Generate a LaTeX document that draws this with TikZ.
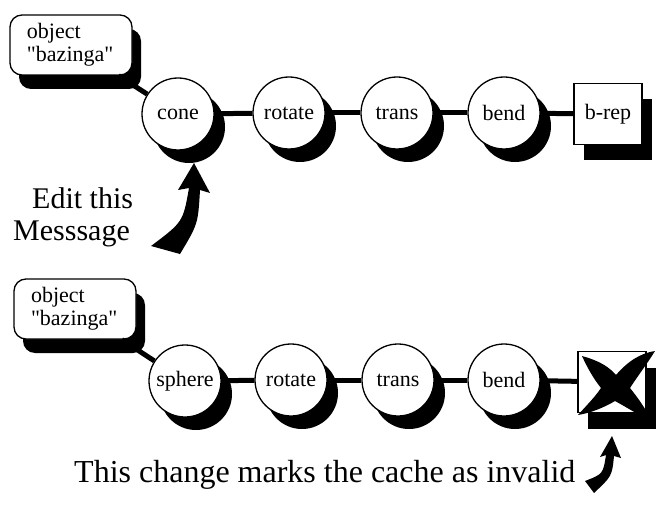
\documentclass[tikz,border=0pt]{standalone}
\usepackage{fontspec}
\setmainfont{Liberation Serif}
\usetikzlibrary{shadows}
\begin{document}
\begin{tikzpicture}[x=1pt,y=-1pt,
  conn/.style={line width=5pt,black},
  opnode/.style={circle,draw,line width=1.3pt,fill=white,minimum size=72pt,inner sep=0pt,
    font=\fontsize{22}{24}\selectfont,
    drop shadow={shadow xshift=11pt,shadow yshift=-13pt,fill=black,opacity=1}},
  objbox/.style={draw,line width=1.3pt,fill=white,rounded corners=12pt,minimum width=122pt,
    minimum height=60pt,inner xsep=17pt,inner ysep=0pt,text width=88pt,align=left,
    font=\fontsize{22}{23}\selectfont,
    drop shadow={shadow xshift=9pt,shadow yshift=-14pt,fill=black,opacity=1}},
  repbox/.style={draw,line width=1.3pt,fill=white,minimum width=68pt,minimum height=61pt,
    inner sep=0pt,font=\fontsize{22}{24}\selectfont,
    drop shadow={shadow xshift=10pt,shadow yshift=-16pt,fill=black,opacity=1}},
  bigtext/.style={inner sep=0pt,font=\fontsize{30}{32}\selectfont},
  brush/.style={fill=black,draw=none}
]
\useasboundingbox (0,0) rectangle (658,505);
% top row
\node[objbox] (obj1) at (71,45) {object\\\textquotedbl bazinga\textquotedbl};
\node[opnode] (cone) at (178,114) {cone};
\node[opnode] (rot1) at (289,113) {rotate};
\node[opnode] (tr1) at (397,113) {trans};
\node[opnode] (bend1) at (504,113) {bend};
\node[repbox] (brep) at (608,114) {b-rep};
\draw[conn] (obj1) -- (cone);
\draw[conn] (cone) -- (rot1);
\draw[conn] (rot1) -- (tr1);
\draw[conn] (tr1) -- (bend1);
\draw[conn] (bend1) -- (brep);
% text and arrow
\node[bigtext,anchor=base west] (edit1) at (32,208) {Edit this};
\node[bigtext,anchor=base west] (edit2) at (13,240) {Messsage};
\fill[brush] (194,163) -- (210,193) -- (200,190)
  .. controls (198,224) .. (180,254) -- (151,246)
  .. controls (183,222) .. (189,188) -- (178,190) -- cycle;
% bottom row
\node[objbox] (obj2) at (75,309) {object\\\textquotedbl bazinga\textquotedbl};
\node[opnode] (sph) at (185,381) {sphere};
\node[opnode] (rot2) at (291,380) {rotate};
\node[opnode] (tr2) at (398,380) {trans};
\node[opnode] (bend2) at (504,380) {bend};
\node[repbox] (xbox) at (612,382) {};
\draw[conn] (obj2) -- (sph);
\draw[conn] (sph) -- (rot2);
\draw[conn] (rot2) -- (tr2);
\draw[conn] (tr2) -- (bend2);
\draw[conn] (bend2) -- (xbox);
% the cross over the cache box
\fill[brush] (582,356) .. controls (600,361) and (609,367) .. (616,375)
  .. controls (628,361) and (641,353) .. (655,351)
  .. controls (647,364) and (637,377) .. (630,388)
  .. controls (638,398) and (646,409) .. (652,422)
  .. controls (639,415) and (626,407) .. (615,401)
  .. controls (605,407) and (591,413) .. (578,415)
  .. controls (586,406) and (595,397) .. (601,388)
  .. controls (593,378) and (587,367) .. cycle;
% bottom text and arrow
\node[bigtext,anchor=base west,font=\fontsize{32}{34}\selectfont] (note) at (74,482) {This change marks the cache as invalid};
\fill[brush] (612,436) -- (621,458) -- (614,456)
  .. controls (612,476) .. (594,493) -- (585,481)
  .. controls (603,474) .. (606,455) -- (600,457) -- cycle;
\end{tikzpicture}
\end{document}
